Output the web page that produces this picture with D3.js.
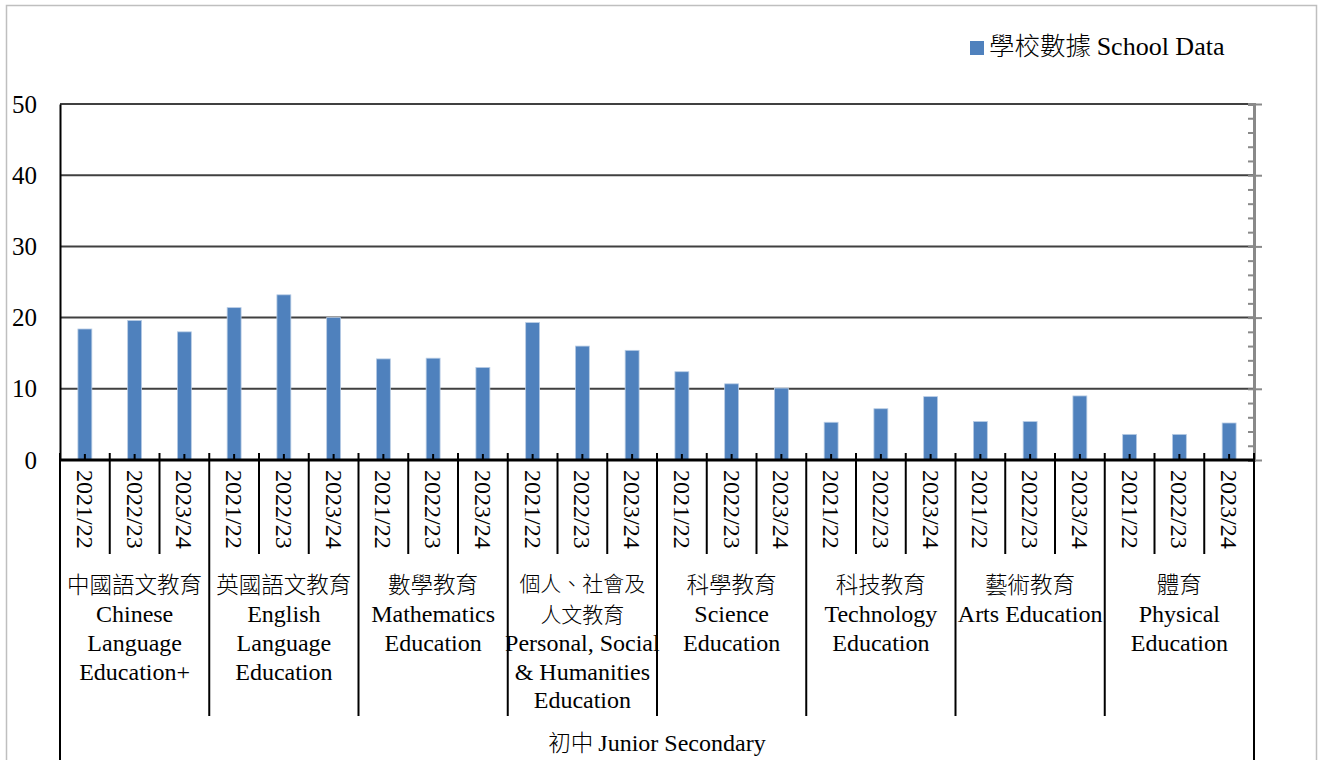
<!DOCTYPE html>
<html><head><meta charset="utf-8">
<script src="https://cdn.jsdelivr.net/npm/d3@7"></script>
<style>body{margin:0;background:#fff}svg{display:block}
.sf{font-family:"Liberation Serif","Times New Roman","DejaVu Serif",serif}
.cj{font-family:"Noto Sans CJK TC","Noto Sans CJK SC",sans-serif;font-weight:300}
</style>
</head><body>
<svg id="c" width="1321" height="760"></svg>
<script>
const groups = [
  ["中國語文教育","Chinese","Language","Education+"],
  ["英國語文教育","English","Language","Education"],
  ["數學教育","Mathematics","Education"],
  ["個人、社會及","人文教育","Personal, Social","& Humanities","Education"],
  ["科學教育","Science","Education"],
  ["科技教育","Technology","Education"],
  ["藝術教育","Arts Education"],
  ["體育","Physical","Education"]
];
const years = ["2021/22","2022/23","2023/24"];
const schoolData = [
  [18.4,19.6,18.0],
  [21.4,23.2,20.0],
  [14.2,14.3,13.0],
  [19.3,16.0,15.4],
  [12.4,10.7,10.1],
  [5.3,7.2,8.9],
  [5.4,5.4,9.0],
  [3.6,3.6,5.2]
];
const yTicks = [0,10,20,30,40,50];
const levelLabel = ["初中","Junior Secondary"];
const legendLabel = ["學校數據","School Data"];

const svg = d3.select("#c");
const L = 60, R = 1254, T = 104, B = 460;
const blue = "#4F81BD";

const cats = [];
groups.forEach((g,gi)=>years.forEach((yv,yi)=>cats.push({gi,yi,year:yv,value:schoolData[gi][yi]})));

const x = d3.scaleBand().domain(d3.range(cats.length)).range([L,R]).paddingInner(0.72).paddingOuter(0.36);
const step = (R-L)/cats.length;
const y = d3.scaleLinear().domain([0,50]).range([B,T]);

// outer border
svg.append("rect").attr("x",6.5).attr("y",5.5).attr("width",1310).attr("height",800)
  .attr("fill","none").attr("stroke","#bfbfbf").attr("stroke-width",1.5);

// gridlines
svg.append("g").selectAll("line").data(yTicks.filter(d=>d>0)).join("line")
  .attr("x1",L).attr("x2",R).attr("y1",d=>y(d)).attr("y2",d=>y(d))
  .attr("stroke","#404040").attr("stroke-width",2);

// left axis
const la = svg.append("g").attr("transform",`translate(${L},0)`)
  .call(d3.axisLeft(y).tickValues(yTicks).tickSize(0).tickPadding(23));
la.attr("font-family",null).attr("font-size",null);
la.select(".domain").attr("stroke","#000").attr("stroke-width",2);
la.selectAll("text").attr("class","sf").style("font-size","25px").attr("fill","#000");

// right axis (gray) with minor ticks
const ra = svg.append("g").attr("transform",`translate(${R},0)`);
ra.call(d3.axisLeft(y).tickValues(d3.range(0,51,2)).tickSize(6).tickFormat(""));
ra.select(".domain").attr("stroke","#898989").attr("stroke-width",3);
ra.selectAll(".tick line").attr("stroke","#898989").attr("stroke-width",2);
ra.append("g").call(d3.axisRight(y).tickValues(yTicks).tickSize(8).tickFormat(""))
  .call(g=>{g.select(".domain").remove();g.selectAll("line").attr("stroke","#898989").attr("stroke-width",2);});

// bars
svg.append("g").selectAll("rect").data(cats).join("rect")
  .attr("x",(d,i)=>x(i)).attr("width",x.bandwidth())
  .attr("y",d=>y(d.value)).attr("height",d=>B-y(d.value))
  .attr("fill",blue).attr("stroke","#b9cde5").attr("stroke-width",0.8);

// x axis line
svg.append("line").attr("x1",L).attr("x2",R+1).attr("y1",B).attr("y2",B)
  .attr("stroke","#000").attr("stroke-width",3);

// center ticks
svg.append("g").selectAll("line").data(cats).join("line")
  .attr("x1",(d,i)=>x(i)+x.bandwidth()/2).attr("x2",(d,i)=>x(i)+x.bandwidth()/2)
  .attr("y1",B-6).attr("y2",B).attr("stroke","#000").attr("stroke-width",2);

// dividers
const bounds = d3.range(cats.length+1);
svg.append("g").selectAll("line").data(bounds).join("line")
  .attr("x1",i=>L+i*step).attr("x2",i=>L+i*step)
  .attr("y1",B-7)
  .attr("y2",i=> (i===0||i===cats.length) ? 760 : (i%3===0 ? 716 : 554))
  .attr("stroke","#000").attr("stroke-width",2);

// year labels
svg.append("g").selectAll("text").data(cats).join("text")
  .attr("class","sf")
  .attr("transform",(d,i)=>`translate(${x(i)+x.bandwidth()/2},470) rotate(90)`)
  .attr("dominant-baseline","central").attr("text-anchor","start")
  .style("font-size","24px").attr("fill","#000")
  .text(d=>d.year);

// group labels
const gl = svg.append("g");
groups.forEach((lines,gi)=>{
  const cx = L + (gi*3+1.5)*step;
  const twoCJK = lines.filter(l=>/[\u3000-\u9fff]/.test(l)).length > 1;
  lines.forEach((ln,li)=>{
    const isCJK = /[\u3000-\u9fff]/.test(ln);
    let yy = 585 + li*28.7;
    if (twoCJK && li === 0) yy = 583.5;
    if (twoCJK && li === 1) yy = 614.5;
    gl.append("text").attr("class",isCJK?"cj":"sf")
      .attr("text-anchor","middle").attr("fill","#000")
      .attr("x",cx).attr("y",yy).attr("dy","0.35em")
      .style("font-size",isCJK?(twoCJK?"21px":"22.5px"):"24px")
      .text(ln);
  });
});

// level label
svg.append("text").attr("x",(L+R)/2).attr("y",745).attr("dy","0.35em").attr("text-anchor","middle")
  .attr("fill","#000")
  .call(t=>{
    t.append("tspan").attr("class","cj").style("font-size","22.5px").text(levelLabel[0]+" ");
    t.append("tspan").attr("class","sf").style("font-size","24px").text(levelLabel[1]);
  });

// legend
const lg = svg.append("g");
lg.append("rect").attr("x",970).attr("y",41).attr("width",14).attr("height",14).attr("fill",blue);
lg.append("text").attr("x",989).attr("y",49).attr("dy","0.35em").attr("fill","#000")
  .call(t=>{
    t.append("tspan").attr("class","cj").style("font-size","25.5px").text(legendLabel[0]+" ");
    t.append("tspan").attr("class","sf").style("font-size","26px").text(legendLabel[1]);
  });
</script>
</body></html>
